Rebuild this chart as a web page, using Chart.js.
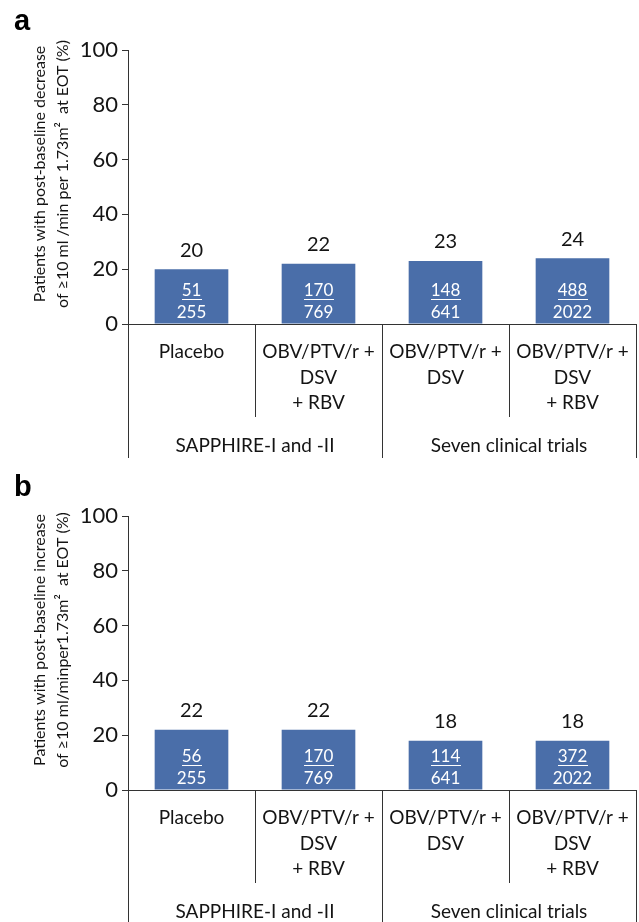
<!DOCTYPE html>
<html>
<head>
<meta charset="utf-8">
<script src="https://cdn.jsdelivr.net/npm/chart.js@4.4.1/dist/chart.umd.min.js"></script>
<style>
  html, body { margin: 0; padding: 0; background: #ffffff; }
  #wrap { width: 639px; height: 922px; overflow: hidden; position: relative; }
  .panel { position: relative; width: 639px; height: 466px; }
  .panel canvas { display: block; }
</style>
</head>
<body>
<div id="wrap">
  <div class="panel"><canvas id="chartA" width="639" height="466"></canvas></div>
  <div class="panel"><canvas id="chartB" width="639" height="466"></canvas></div>
</div>
<script>
// ---- data ----
const categories = [
  ['Placebo'],
  ['OBV/PTV/r +', 'DSV', '+ RBV'],
  ['OBV/PTV/r +', 'DSV'],
  ['OBV/PTV/r +', 'DSV', '+ RBV']
];
const groupNames = ['SAPPHIRE-I and -II', 'Seven clinical trials'];
const groupSizes = [2, 2];
const patientTotals = [255, 769, 641, 2022];

// panel a: eGFR decrease of >=10 ml/min per 1.73m2
const decreasePercent = [20, 22, 23, 24];
const decreaseCount = [51, 170, 148, 488];

// panel b: eGFR increase of >=10 ml/min per 1.73m2
const increasePercent = [22, 22, 18, 18];
const increaseCount = [56, 170, 114, 372];

const yTicks = [0, 20, 40, 60, 80, 100];

const titleA = ['Patients with post-baseline decrease', 'of \u226510 ml /min per 1.73m\u00B2  at EOT (%)'];
const titleB = ['Patients with post-baseline increase', 'of \u226510 ml/minper1.73m\u00B2  at EOT (%)'];

// ---- style ----
const FONT = 'Lato';
const TEXT = '#141414';
const LINE = '#333333';
const BAR = '#4a6ea9';

// Draws value labels, in-bar fractions, the two-level category axis,
// the rotated axis title and the panel letter.
const annotatePlugin = {
  id: 'annotate',
  afterDraw(chart, args, opts) {
    const ctx = chart.ctx;
    const xs = chart.scales.x;
    const ys = chart.scales.y;
    const axisY = ys.getPixelForValue(0);
    const n = categories.length;
    const half = (xs.right - xs.left) / (2 * n);
    const meta = chart.getDatasetMeta(0);
    const values = chart.data.datasets[0].data;
    const counts = opts.counts;

    ctx.save();
    ctx.textAlign = 'center';
    ctx.textBaseline = 'middle';

    // value above each bar and count / total inside
    meta.data.forEach((bar, i) => {
      const cx = bar.x;
      ctx.fillStyle = TEXT;
      ctx.font = '20px ' + FONT;
      ctx.fillText(String(values[i]), cx, bar.y - 19);

      ctx.fillStyle = '#ffffff';
      ctx.font = '17px ' + FONT;
      const num = String(counts[i]);
      ctx.fillText(num, cx, axisY - 33);
      const w = ctx.measureText(num).width;
      ctx.fillRect(Math.round(cx - w / 2), Math.round(axisY - 25), Math.round(w), 1);
      ctx.fillText(String(patientTotals[i]), cx, axisY - 11);
    });

    // category labels
    ctx.fillStyle = TEXT;
    ctx.font = '19px ' + FONT;
    categories.forEach((lines, i) => {
      const cx = xs.getPixelForValue(i);
      lines.forEach((t, k) => ctx.fillText(t, cx, axisY + 28 + k * 25.5));
    });

    // dividers: short inside a group, long at group boundaries
    ctx.strokeStyle = LINE;
    ctx.lineWidth = 1;
    const boundaries = new Set([0]);
    let acc = 0;
    groupSizes.forEach(s => { acc += s; boundaries.add(acc); });
    for (let i = 0; i <= n; i++) {
      const x = Math.round(xs.getPixelForValue(0) - half + i * 2 * half) + 0.5;
      const len = boundaries.has(i) ? 134 : 93;
      ctx.beginPath();
      ctx.moveTo(x, axisY);
      ctx.lineTo(x, axisY + len);
      ctx.stroke();
    }

    // group labels
    ctx.font = '19px ' + FONT;
    let start = 0;
    groupSizes.forEach((s, g) => {
      const x0 = xs.getPixelForValue(start) - half;
      const x1 = xs.getPixelForValue(start + s - 1) + half;
      ctx.fillText(groupNames[g], (x0 + x1) / 2, axisY + 122);
      start += s;
    });

    // rotated y axis title
    ctx.save();
    ctx.translate(0, ys.top + 124);
    ctx.rotate(-Math.PI / 2);
    ctx.font = '16px ' + FONT;
    ctx.fillText(opts.title[0], 0, 40);
    ctx.fillText(opts.title[1], 0, 63);
    ctx.restore();

    // panel letter
    ctx.textAlign = 'left';
    ctx.textBaseline = 'alphabetic';
    ctx.font = 'bold 29px "Liberation Sans"';
    ctx.fillStyle = '#000000';
    ctx.fillText(opts.letter, 14, 30);

    ctx.restore();
  }
};

function makeChart(id, values, counts, title, letter) {
  return new Chart(document.getElementById(id), {
    type: 'bar',
    data: {
      labels: categories.map(c => c.join(' ')),
      datasets: [{
        data: values,
        backgroundColor: BAR,
        borderWidth: 0,
        barPercentage: 0.58,
        categoryPercentage: 1.0
      }]
    },
    options: {
      responsive: false,
      animation: false,
      devicePixelRatio: 1,
      layout: { padding: { top: 50, right: 3, bottom: 142, left: 0 } },
      plugins: {
        legend: { display: false },
        tooltip: { enabled: false },
        annotate: { counts: counts, title: title, letter: letter }
      },
      scales: {
        x: {
          type: 'category',
          grid: { display: false },
          ticks: { display: false },
          border: { display: true, color: LINE, width: 1 },
          afterFit(s) { s.height = 0; }
        },
        y: {
          min: 0,
          max: 100,
          afterBuildTicks(s) { s.ticks = yTicks.map(v => ({ value: v })); },
          ticks: { font: { family: FONT, size: 22 }, color: TEXT, padding: 4 },
          grid: { drawOnChartArea: false, drawTicks: true, tickLength: 6, color: LINE },
          border: { display: true, color: LINE, width: 1 },
          afterFit(s) { s.width = 128; }
        }
      }
    },
    plugins: [annotatePlugin]
  });
}

makeChart('chartA', decreasePercent, decreaseCount, titleA, 'a');
makeChart('chartB', increasePercent, increaseCount, titleB, 'b');
</script>
</body>
</html>
